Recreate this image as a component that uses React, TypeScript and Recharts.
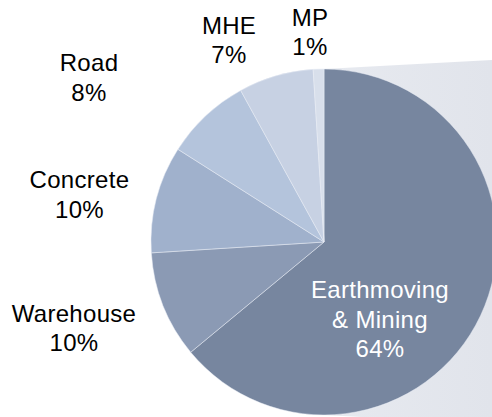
import React from 'react';
import { PieChart, Pie, Cell } from 'recharts';

// segment share, clockwise from 12 o'clock
const categories = ['Earthmoving & Mining', 'Warehouse', 'Concrete', 'Road', 'MHE', 'MP'];
const shares = [64, 10, 10, 8, 7, 1];
const sliceColors = ['#77869f', '#8b9ab4', '#a0b1cc', '#b4c4dc', '#c7d1e3', '#d8dfeb'];

const W = 492;
const H = 417;
const CX = 324;
const CY = 242;
const R = 173;
const FONT = '"Liberation Sans", Arial, sans-serif';
const LINE_H = 29.5;

// where Excel dropped each label block, relative to the pie centre
const labelOffsets: [number, number][] = [
  [56, 77],
  [-250, 86],
  [-244.5, -47.5],
  [-235, -164.5],
  [-95, -202],
  [-14, -210],
];

const data = categories.map((name, i) => ({ name, value: shares[i] }));
const total = shares.reduce((a, b) => a + b, 0);

const wrapName = (name: string) => {
  if (name.length <= 11) return [name];
  const k = name.indexOf(' ');
  return [name.slice(0, k), name.slice(k + 1)];
};

const renderLabel = (props: any) => {
  const { cx, cy, index, value, name } = props;
  const [ox, oy] = labelOffsets[index];
  const lines = [...wrapName(name), `${Math.round((value / total) * 100)}%`];
  const x = cx + ox;
  const y0 = cy + oy - ((lines.length - 1) * LINE_H) / 2 + 8.6;
  return (
    <text
      key={`lbl-${index}`}
      x={x}
      y={y0}
      textAnchor="middle"
      fontSize={24}
      fontFamily={FONT}
      letterSpacing={0.3}
      fill={index === 0 ? '#ffffff' : '#000000'}
    >
      {lines.map((t, j) => (
        <tspan key={j} x={x} y={y0 + j * LINE_H}>
          {t}
        </tspan>
      ))}
    </text>
  );
};

export default function App() {
  return (
    <div style={{ position: 'absolute', left: 0, top: 0, width: W, height: H, background: '#fff' }}>
      {/* connector band toward the secondary chart (off to the right) */}
      <svg width={W} height={H} style={{ position: 'absolute', left: 0, top: 0 }}>
        <defs>
          <linearGradient id="band" x1="0" y1="0" x2="1" y2="0">
            <stop offset="0%" stopColor="#e7eaf0" />
            <stop offset="100%" stopColor="#e1e4eb" />
          </linearGradient>
        </defs>
        <polygon
          points={`${CX},${CY - R} ${W},${CY - R - 9} ${W},${CY + R + 9} ${CX},${CY + R}`}
          fill="url(#band)"
        />
      </svg>
      <div style={{ position: 'absolute', left: 0, top: 0 }}>
        <PieChart width={W} height={H} margin={{ top: 0, right: 0, bottom: 0, left: 0 }}>
          <Pie
            data={data}
            dataKey="value"
            nameKey="name"
            cx={CX}
            cy={CY}
            outerRadius={R}
            startAngle={90}
            endAngle={-270}
            stroke="#e9edf4"
            strokeWidth={0.5}
            label={renderLabel}
            labelLine={false}
            isAnimationActive={false}
          >
            {data.map((d, i) => (
              <Cell key={d.name} fill={sliceColors[i]} />
            ))}
          </Pie>
        </PieChart>
      </div>
    </div>
  );
}
